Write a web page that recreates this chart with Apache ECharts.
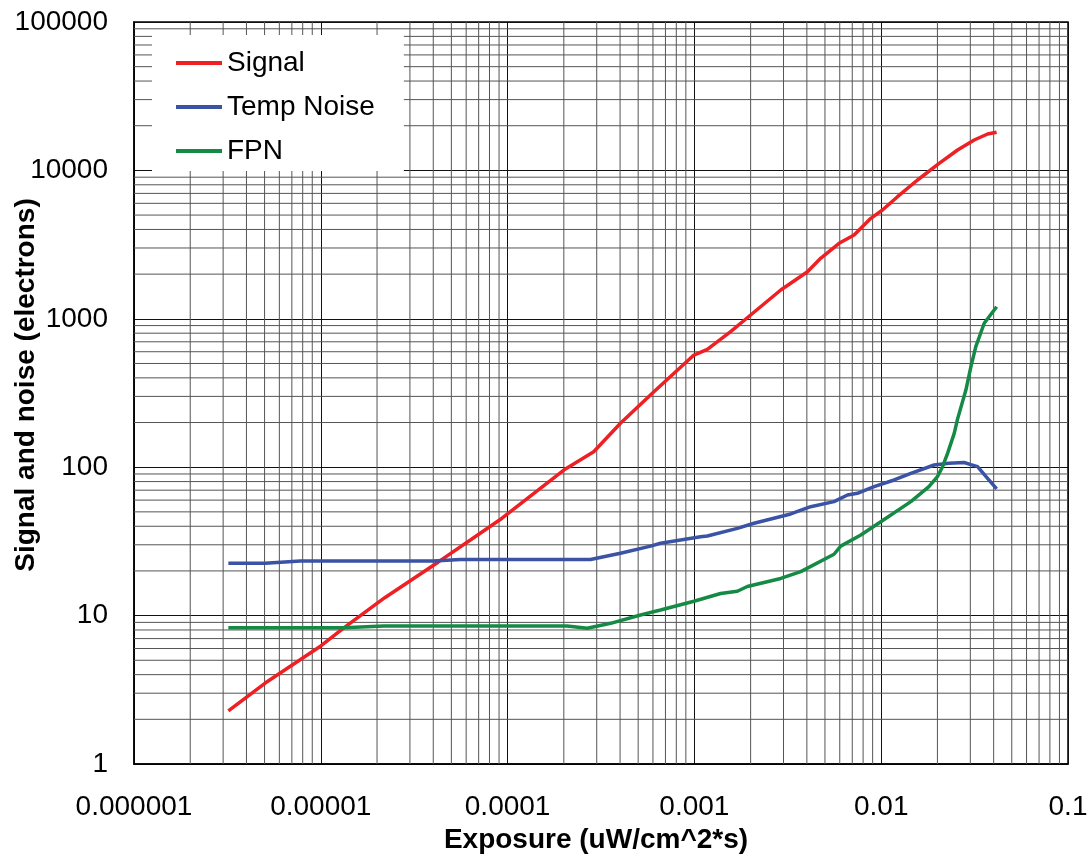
<!DOCTYPE html>
<html>
<head>
<meta charset="utf-8">
<script src="https://cdn.jsdelivr.net/npm/echarts@6/dist/echarts.min.js"></script>
<style>
html,body{margin:0;padding:0;background:#fff;}
#chart{width:1092px;height:857px;}
</style>
</head>
<body>
<div id="chart"></div>
<script>
// ---- data ----
const signalX = [3.2e-6, 5.04e-6, 1.0e-5, 1.334e-5, 2.2e-5, 4.26e-5, 6.32e-5, 9.34e-5, 2.0e-4, 2.89e-4, 4.02e-4, 6.07e-4, 9.94e-4, 1.173e-3, 1.563e-3, 2.0e-3, 2.9e-3, 4.03e-3, 4.74e-3, 5.95e-3, 7.16e-3, 8.8e-3, 1.016e-2, 1.223e-2, 1.565e-2, 2.043e-2, 2.564e-2, 3.148e-2, 3.713e-2, 4.148e-2];
const signalY = [2.28, 3.51, 6.24, 8.29, 13.2, 23.0, 32.3, 45.3, 95.7, 127, 197.6, 322.7, 570, 623, 819, 1061, 1563, 2077, 2556, 3228, 3670, 4755, 5410, 6650, 8617, 11160, 13725, 16030, 17590, 18060];

const noiseX = [3.2e-6, 5.04e-6, 7.76e-6, 4.0e-5, 5.58e-5, 2.78e-4, 4.02e-4, 5.83e-4, 6.59e-4, 1.079e-3, 1.173e-3, 1.698e-3, 2.085e-3, 3.28e-3, 4.19e-3, 5.59e-3, 6.6e-3, 7.46e-3, 9.16e-3, 1.173e-2, 1.441e-2, 1.92e-2, 2.3e-2, 2.78e-2, 3.02e-2, 3.28e-2, 3.71e-2, 4.15e-2];
const noiseY = [22.5, 22.5, 23.3, 23.3, 23.9, 23.9, 26.3, 29.4, 30.7, 34.0, 34.4, 38.7, 41.9, 48.4, 54.2, 58.6, 65.0, 66.7, 73.9, 82.0, 90.9, 103.5, 106.5, 107.5, 104, 100.8, 84.2, 71.5];

const fpnX = [3.2e-6, 1.334e-5, 2.17e-5, 1.92e-4, 2.08e-4, 2.67e-4, 3.56e-4, 5.15e-4, 6.59e-4, 9.94e-4, 1.382e-3, 1.698e-3, 1.92e-3, 2.9e-3, 3.71e-3, 5.59e-3, 6.07e-3, 7.78e-3, 9.95e-3, 1.441e-2, 1.8e-2, 2.0e-2, 2.13e-2, 2.266e-2, 2.46e-2, 2.56e-2, 2.84e-2, 3.02e-2, 3.21e-2, 3.56e-2, 4.15e-2];
const fpnY = [8.29, 8.29, 8.51, 8.51, 8.5, 8.21, 8.87, 10.1, 10.9, 12.5, 14.1, 14.6, 15.7, 17.8, 19.8, 25.9, 29.4, 34.9, 42.9, 58.6, 74, 86.3, 100.8, 124, 169, 210, 331, 475, 649, 933, 1206];

const seriesNames = ['Signal', 'Temp Noise', 'FPN'];
const xTickLabels = ['0.000001', '0.00001', '0.0001', '0.001', '0.01', '0.1'];
const yTickLabels = ['1', '10', '100', '1000', '10000', '100000'];

// ---- build ----
const zip = (xs, ys) => xs.map((x, i) => [x, ys[i]]);
const colors = ['#ED2024', '#3A53A4', '#158A45'];
const X_MIN = 1e-6, X_MAX = 0.1, Y_MIN = 1, Y_MAX = 100000;

// minor grid lines (2..9 in every decade) as broken line segments
const minorXData = [], minorYData = [];
for (let d = -6; d <= -2; d++) for (let m = 2; m <= 9; m++) {
  const v = m * Math.pow(10, d);
  minorXData.push([v, Y_MIN], [v, Y_MAX], [v, '-']);
}
for (let d = 0; d <= 4; d++) for (let m = 2; m <= 9; m++) {
  const v = m * Math.pow(10, d);
  minorYData.push([X_MIN, v], [X_MAX, v], ['-', v]);
}

const font = '"Liberation Sans", Arial, sans-serif';

const chart = echarts.init(document.getElementById('chart'), null, { renderer: 'canvas' });

const lineSeries = (name, data, color) => ({
  name, type: 'line', data, showSymbol: false, symbol: 'none', z: 10,
  lineStyle: { color, width: 3.5 }, itemStyle: { color }, animation: false
});
const gridSeries = (name, data) => ({
  name, type: 'line', data, showSymbol: false, symbol: 'none', z: 1, silent: true,
  connectNulls: false, clip: true,
  lineStyle: { color: '#555', width: 1 }, animation: false
});

chart.setOption({
  backgroundColor: '#fff',
  animation: false,
  grid: {
    left: 134, right: 24, top: 22, bottom: 93,
    containLabel: false, outerBoundsMode: 'none',
    show: true, borderColor: '#000', borderWidth: 1.5, backgroundColor: '#fff'
  },
  legend: {
    orient: 'vertical', left: 152, top: 35, z: 20,
    padding: [14, 29, 6, 24], itemGap: 16,
    backgroundColor: '#fff', borderWidth: 0,
    itemWidth: 46, itemHeight: 4, icon: 'rect',
    textStyle: { fontFamily: font, fontSize: 28, color: '#000' },
    data: seriesNames
  },
  xAxis: {
    type: 'log', logBase: 10, min: X_MIN, max: X_MAX,
    name: 'Exposure (uW/cm^2*s)', nameLocation: 'middle', nameGap: 62, nameMoveOverlap: false,
    nameTextStyle: { fontFamily: font, fontSize: 28, fontWeight: 'bold', color: '#000', padding: [0, 10, 0, 0] },
    axisLine: { show: true, lineStyle: { color: '#000', width: 1.5 } },
    axisTick: { show: false },
    axisLabel: {
      fontFamily: font, fontSize: 28, color: '#000', margin: 29,
      formatter: v => xTickLabels[Math.round(Math.log10(v)) + 6]
    },
    splitLine: { show: true, lineStyle: { color: '#111', width: 1 } },
    minorTick: { show: false }, minorSplitLine: { show: false }
  },
  yAxis: {
    type: 'log', logBase: 10, min: Y_MIN, max: Y_MAX,
    name: 'Signal and noise (electrons)', nameLocation: 'middle', nameGap: 94, nameMoveOverlap: false,
    nameTextStyle: { fontFamily: font, fontSize: 28, fontWeight: 'bold', color: '#000', padding: [0, 0, 0, 16] },
    axisLine: { show: true, lineStyle: { color: '#000', width: 1.5 } },
    axisTick: { show: false },
    axisLabel: {
      fontFamily: font, fontSize: 28, color: '#000', margin: 26,
      formatter: v => yTickLabels[Math.round(Math.log10(v))]
    },
    splitLine: { show: true, lineStyle: { color: '#111', width: 1 } },
    minorTick: { show: false }, minorSplitLine: { show: false }
  },
  series: [
    gridSeries('minor-x', minorXData),
    gridSeries('minor-y', minorYData),
    lineSeries(seriesNames[0], zip(signalX, signalY), colors[0]),
    lineSeries(seriesNames[1], zip(noiseX, noiseY), colors[1]),
    lineSeries(seriesNames[2], zip(fpnX, fpnY), colors[2])
  ]
});
</script>
</body>
</html>
